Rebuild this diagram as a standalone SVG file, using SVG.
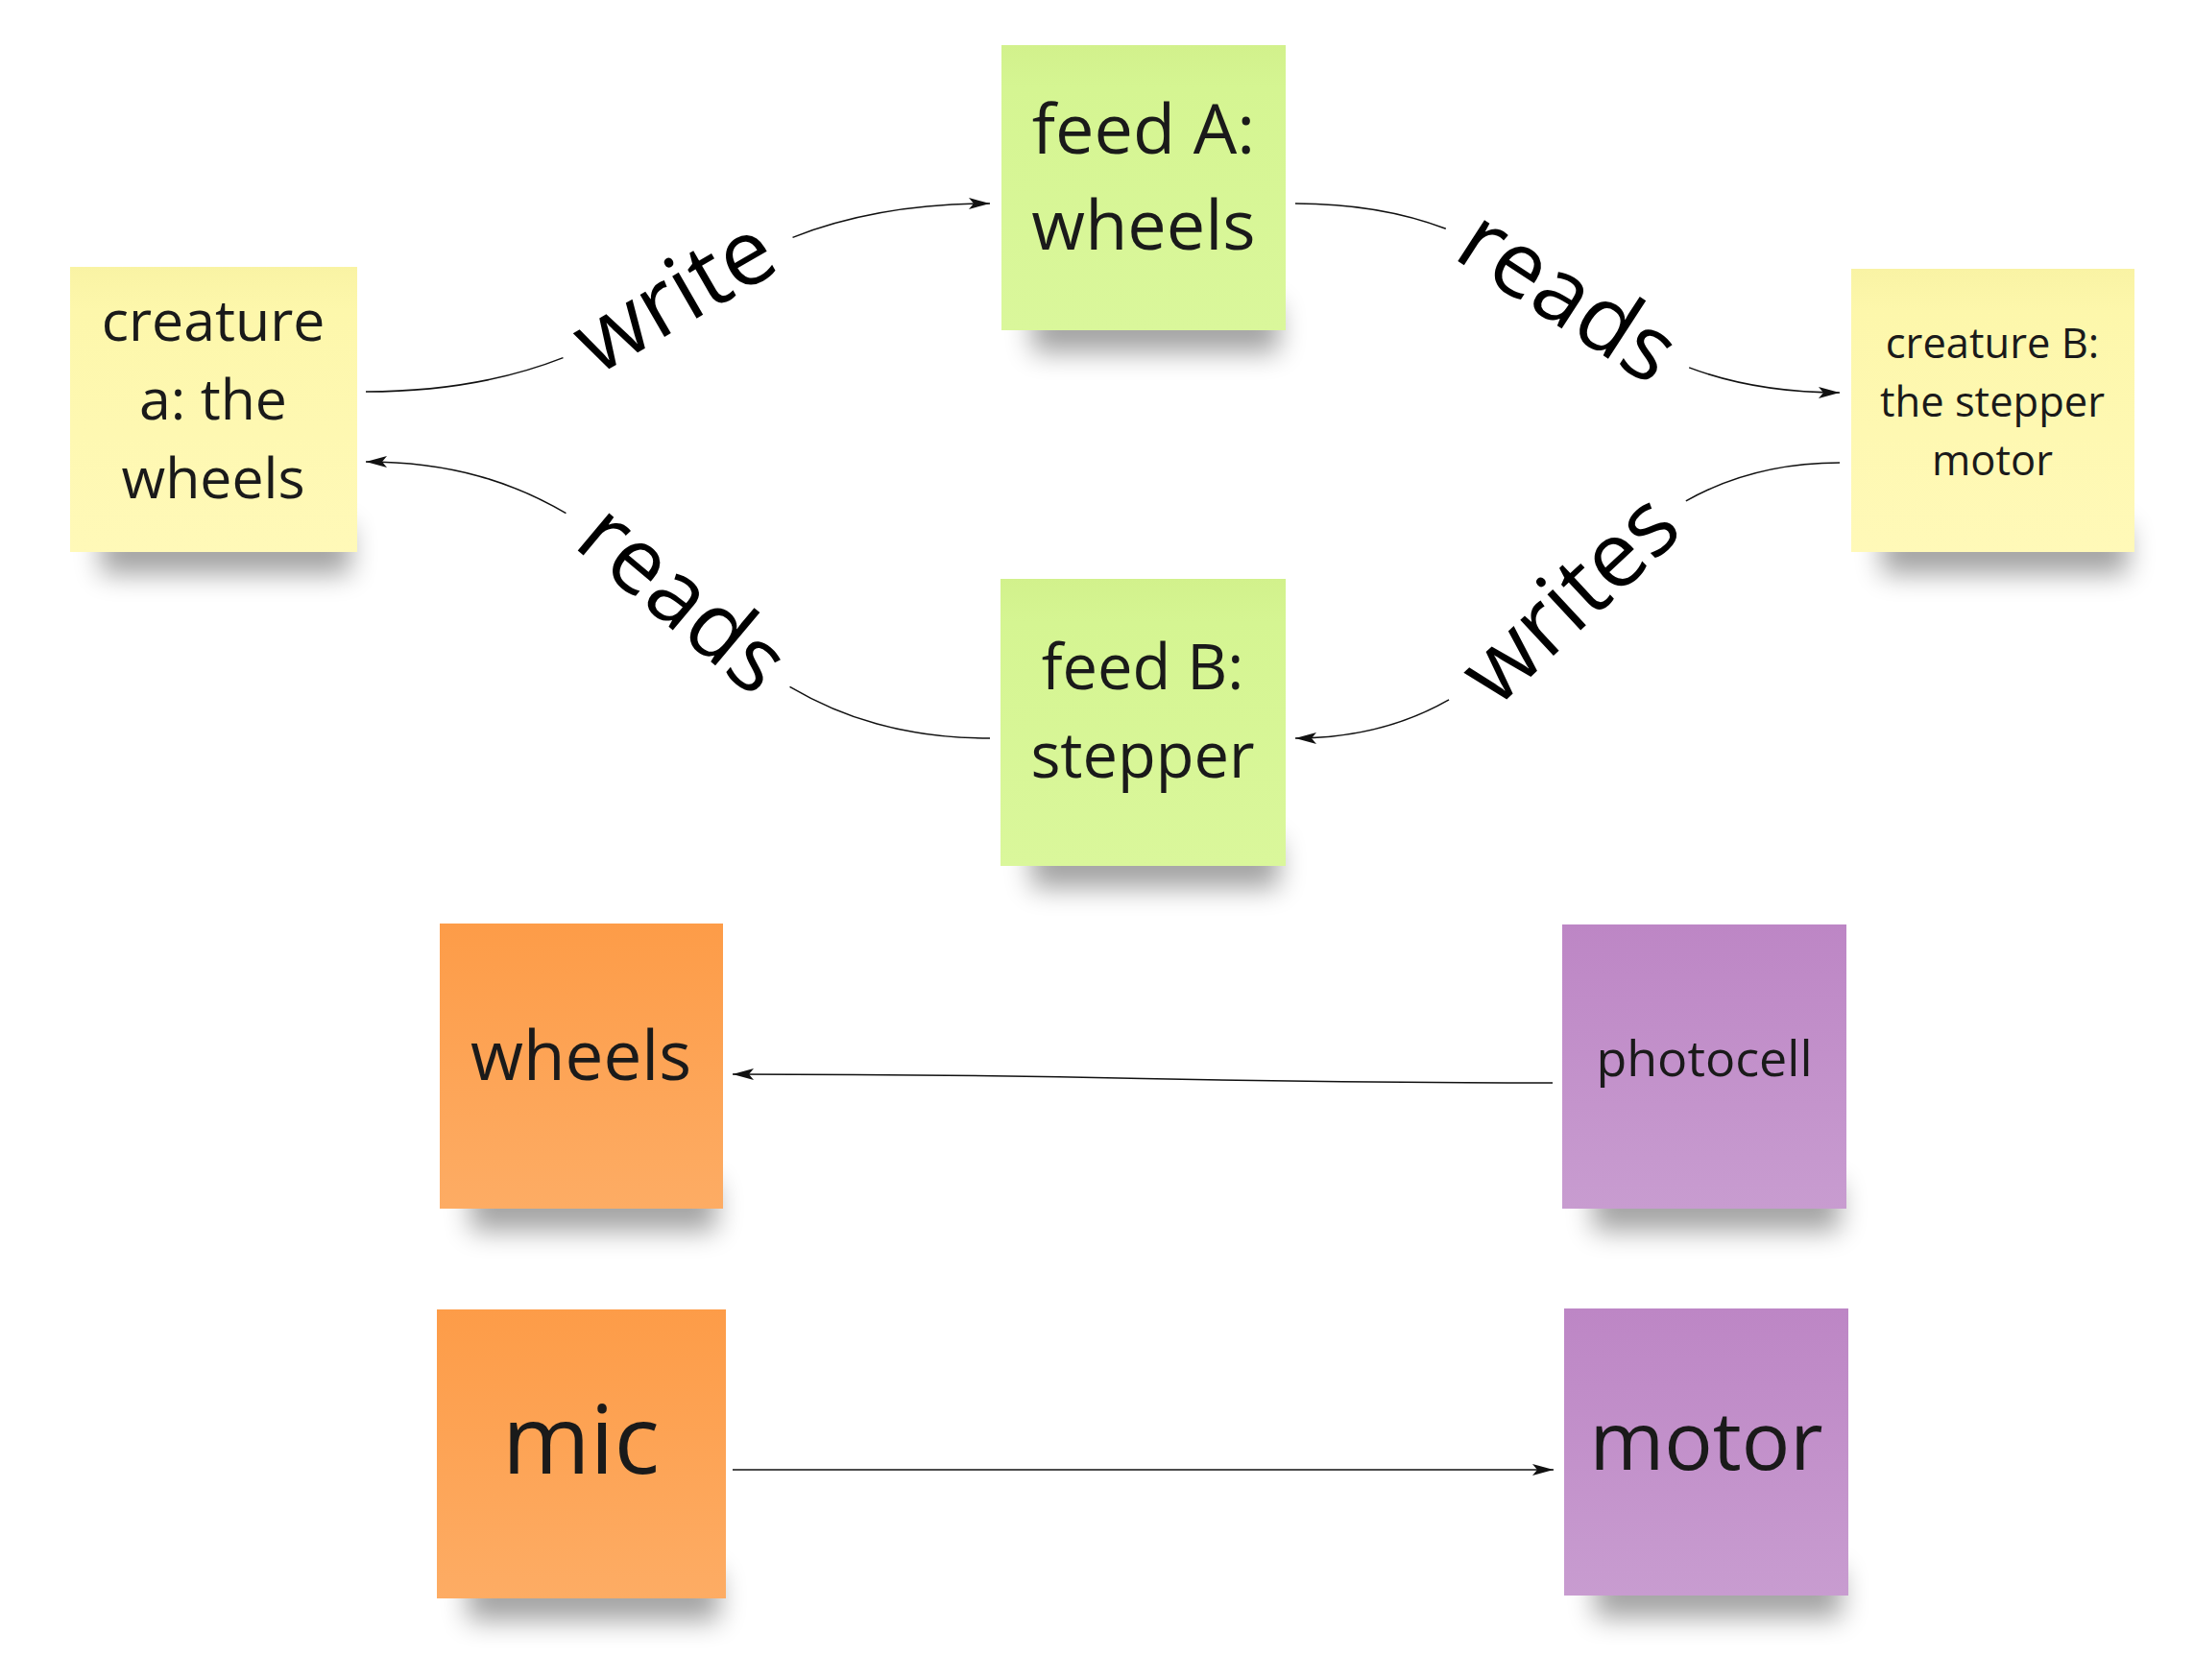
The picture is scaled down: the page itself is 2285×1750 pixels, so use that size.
<svg xmlns="http://www.w3.org/2000/svg" width="2285" height="1750" viewBox="0 0 2285 1750">
<defs>
  <style>
    .node-text { font-family: "Open Sans", "Noto Sans", "Liberation Sans", sans-serif; fill: #1a1a1a; text-anchor: middle; }
    .label { font-family: "Open Sans", "Noto Sans", "Liberation Sans", sans-serif; fill: #000; text-anchor: middle; font-size: 95px; }
    .conn { fill: none; stroke: #111; stroke-width: 1.5; }
    .shadow { fill: #000; opacity: 0.36; filter: url(#blur); }
  </style>
  <filter id="blur" x="-20%" y="-80%" width="140%" height="260%">
    <feGaussianBlur stdDeviation="14"/>
  </filter>
  <linearGradient id="gYellow" x1="0" y1="0" x2="0" y2="1">
    <stop offset="0" stop-color="#f9f3a4"/>
    <stop offset="0.15" stop-color="#fdf7ab"/>
    <stop offset="1" stop-color="#fff9b8"/>
  </linearGradient>
  <linearGradient id="gGreen" x1="0" y1="0" x2="0" y2="1">
    <stop offset="0" stop-color="#d2f18c"/>
    <stop offset="0.15" stop-color="#d5f592"/>
    <stop offset="1" stop-color="#daf79b"/>
  </linearGradient>
  <linearGradient id="gOrange" x1="0" y1="0" x2="0" y2="1">
    <stop offset="0" stop-color="#fd9c48"/>
    <stop offset="1" stop-color="#fdac64"/>
  </linearGradient>
  <linearGradient id="gPurple" x1="0" y1="0" x2="0" y2="1">
    <stop offset="0" stop-color="#bd86c5"/>
    <stop offset="1" stop-color="#c89cd0"/>
  </linearGradient>
  <marker id="arrow" markerUnits="userSpaceOnUse" markerWidth="24" markerHeight="14" refX="22" refY="6" orient="auto">
    <path d="M0,0 L22,6 L0,12 L5,6 Z" fill="#111"/>
  </marker>
</defs>

<rect x="0" y="0" width="2285" height="1750" fill="#ffffff"/>

<g id="node-creature-a">
  <rect class="shadow" x="105" y="548" width="260" height="50"/>
  <rect x="73" y="278" width="299" height="297" fill="url(#gYellow)"/>
  <text class="node-text" font-size="59"><tspan x="222" y="355">creature</tspan><tspan x="222" y="437">a: the</tspan><tspan x="222" y="519">wheels</tspan></text>
</g>

<g id="node-feed-a">
  <rect class="shadow" x="1075" y="317" width="257" height="50"/>
  <rect x="1043" y="47" width="296" height="297" fill="url(#gGreen)"/>
  <text class="node-text" font-size="72"><tspan x="1191" y="160">feed A:</tspan><tspan x="1191" y="260">wheels</tspan></text>
</g>

<g id="node-creature-b">
  <rect class="shadow" x="1960" y="548" width="256" height="50"/>
  <rect x="1928" y="280" width="295" height="295" fill="url(#gYellow)"/>
  <text class="node-text" font-size="43.5"><tspan x="2075" y="373">creature B:</tspan><tspan x="2075" y="434">the stepper</tspan><tspan x="2075" y="495">motor</tspan></text>
</g>

<g id="node-feed-b">
  <rect class="shadow" x="1074" y="875" width="258" height="50"/>
  <rect x="1042" y="603" width="297" height="299" fill="url(#gGreen)"/>
  <text class="node-text" font-size="65"><tspan x="1190" y="718">feed B:</tspan><tspan x="1190" y="810">stepper</tspan></text>
</g>

<g id="node-wheels">
  <rect class="shadow" x="490" y="1232" width="256" height="50"/>
  <rect x="458" y="962" width="295" height="297" fill="url(#gOrange)"/>
  <text class="node-text" font-size="71" x="605" y="1125">wheels</text>
</g>

<g id="node-photocell">
  <rect class="shadow" x="1659" y="1232" width="257" height="50"/>
  <rect x="1627" y="963" width="296" height="296" fill="url(#gPurple)"/>
  <text class="node-text" font-size="52" x="1775" y="1121">photocell</text>
</g>

<g id="node-mic">
  <rect class="shadow" x="487" y="1638" width="262" height="50"/>
  <rect x="455" y="1364" width="301" height="301" fill="url(#gOrange)"/>
  <text class="node-text" font-size="99" x="605" y="1535">mic</text>
</g>

<g id="node-motor">
  <rect class="shadow" x="1661" y="1635" width="257" height="50"/>
  <rect x="1629" y="1363" width="296" height="299" fill="url(#gPurple)"/>
  <text class="node-text" font-size="84" x="1777" y="1531">motor</text>
</g>

<g id="connectors">
  <path class="conn" d="M381,408 C706,408 706,212 1031,212" pathLength="1000" stroke-dasharray="304 392 1000" marker-end="url(#arrow)"/>
  <path class="conn" d="M1349,212 C1632,212 1632,409 1916,409" pathLength="1000" stroke-dasharray="261 478 1000" marker-end="url(#arrow)"/>
  <path class="conn" d="M1031,769 C706,769 706,481 381,481" pathLength="1000" stroke-dasharray="298 404 1000" marker-end="url(#arrow)"/>
  <path class="conn" d="M1916,482 C1632,482 1632,769 1349,769" pathLength="1000" stroke-dasharray="254 492 1000" marker-end="url(#arrow)"/>
  <path class="conn" d="M1617,1128 C1190,1128 1190,1119 763,1119" marker-end="url(#arrow)"/>
  <path class="conn" d="M763,1531 L1618,1531" stroke-width="1.8" marker-end="url(#arrow)"/>
  <g transform="translate(703,310) rotate(-30)"><text class="label" x="0" y="30">write</text></g>
  <g transform="translate(1632,310) rotate(33)"><text class="label" x="0" y="30">reads</text></g>
  <g transform="translate(710,625) rotate(40)"><text class="label" x="0" y="30">reads</text></g>
  <g transform="translate(1636,625) rotate(-43)"><text class="label" x="0" y="30">writes</text></g>
</g>
</svg>
